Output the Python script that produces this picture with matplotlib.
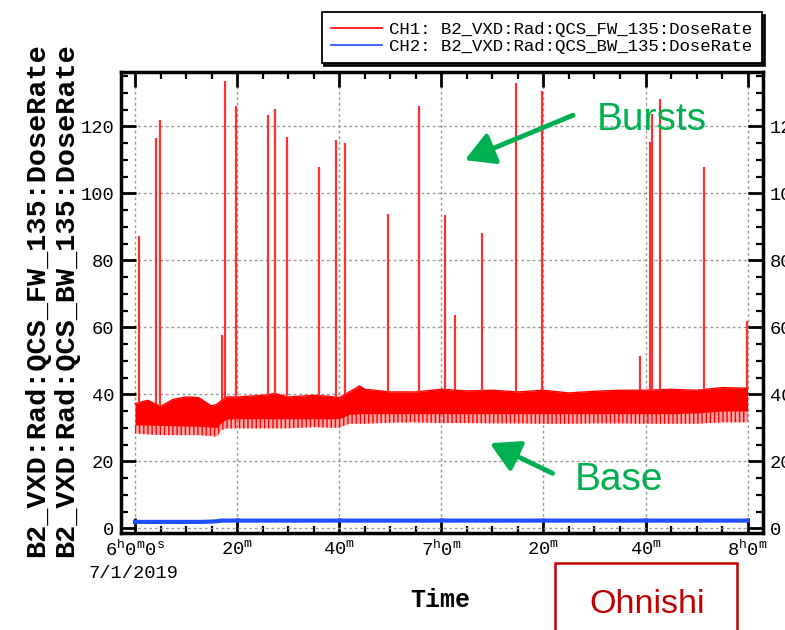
import numpy as np
import matplotlib
matplotlib.use("Agg")
import matplotlib.pyplot as plt
from matplotlib.ticker import MultipleLocator
from matplotlib.patches import Rectangle

plt.rcParams['font.family'] = ['Liberation Mono', 'DejaVu Sans']
plt.rcParams['mathtext.fontset'] = 'custom'
plt.rcParams['mathtext.rm'] = 'Liberation Mono'
plt.rcParams['mathtext.it'] = 'Liberation Mono:italic'
plt.rcParams['mathtext.bf'] = 'Liberation Mono:bold'
plt.rcParams['hatch.linewidth'] = 1.0

# minutes after 6h00 on 7/1/2019
t_base = [0, 2.5, 5, 7.5, 10, 12.5, 15, 16, 17, 18, 20, 25, 27.5, 30, 35, 38, 40,
          42, 44, 45, 50, 55, 60, 65, 70, 75, 80, 85, 90, 95, 100, 105, 110, 115, 120]
# CH1 baseline band (top of noise, bottom of dense part, lowest dips)
ch1_top = [37.2, 38.2, 36.4, 38.5, 39.2, 39.0, 36.5, 37.0, 38.2, 39.2, 39.2, 39.7, 40.2, 39.2, 39.7, 39.4, 39.0,
           40.7, 42.5, 41.5, 40.7, 40.7, 41.5, 41.0, 41.2, 40.7, 41.2, 40.4, 40.9, 41.2, 41.2, 41.5, 41.2, 42.0, 41.8]
ch1_core = [30.8, 30.8, 30.7, 30.6, 30.5, 30.4, 30.2, 30.1, 31.7, 32.6, 32.7, 32.7, 32.7, 32.7, 32.7, 32.7, 32.7,
            34.0, 34.2, 34.2, 34.2, 34.2, 34.2, 34.2, 34.2, 34.2, 34.2, 34.2, 34.2, 34.2, 34.2, 34.2, 34.4, 35.0, 35.0]
ch1_low = [28.3, 28.0, 27.8, 27.8, 27.8, 27.8, 27.5, 27.3, 29.3, 29.8, 29.8, 29.8, 29.8, 29.8, 30.2, 30.0, 30.0,
           31.2, 31.2, 31.2, 31.5, 31.6, 31.4, 31.4, 31.3, 31.3, 31.2, 31.2, 31.3, 31.3, 31.2, 31.2, 31.2, 31.6, 31.6]
# CH2 (backward sensor) stays near 2
ch2_val = [1.9, 1.9, 1.9, 1.9, 1.9, 1.9, 2.0, 2.1, 2.3, 2.3, 2.3, 2.3, 2.3, 2.3, 2.3, 2.3, 2.3,
           2.3, 2.3, 2.3, 2.3, 2.3, 2.3, 2.3, 2.3, 2.3, 2.3, 2.3, 2.3, 2.3, 2.3, 2.3, 2.3, 2.3, 2.3]

# CH1 bursts: time (min) and peak dose rate
burst_t = [0.8, 4.1, 4.9, 17.0, 17.6, 19.7, 26.1, 27.4, 29.7, 36.0, 39.3, 41.2, 49.5, 55.7,
           60.8, 62.6, 68.0, 74.6, 79.8, 99.0, 100.8, 101.3, 102.9, 111.4, 119.9]
burst_peak = [87.2, 116.5, 122.0, 57.6, 133.4, 126.2, 123.3, 125.2, 116.9, 107.7, 116.0, 115.1, 93.9, 126.2,
              93.5, 63.6, 88.0, 132.9, 130.5, 51.3, 115.3, 123.8, 128.0, 107.7, 61.8]

x_ticks = [0, 20, 40, 60, 80, 100, 120]
x_labels = [r'$\mathrm{6^{h}0^{m}0^{s}}$', r'$\mathrm{20^{m}}$', r'$\mathrm{40^{m}}$',
            r'$\mathrm{7^{h}0^{m}}$', r'$\mathrm{20^{m}}$', r'$\mathrm{40^{m}}$', r'$\mathrm{8^{h}0^{m}}$']
y_ticks = [0, 20, 40, 60, 80, 100, 120]

ch1_name = "CH1: B2_VXD:Rad:QCS_FW_135:DoseRate"
ch2_name = "CH2: B2_VXD:Rad:QCS_BW_135:DoseRate"

fig = plt.figure(figsize=(7.85, 6.3), dpi=100)
ax = fig.add_axes([0.1541, 0.1540, 0.8178, 0.7317])

# baseline band
ax.fill_between(t_base, ch1_core, ch1_top, color='#ff0000', linewidth=0)
ax.fill_between(t_base, ch1_low, ch1_core, facecolor=(1, 0, 0, 0.35), edgecolor='#ff0000',
                hatch='||||', linewidth=0)
l1, = ax.plot(t_base, ch1_top, color='#ff0000', lw=1, label=ch1_name)
# bursts
base_at = np.interp(burst_t, t_base, ch1_top)
ax.vlines(burst_t, base_at, burst_peak, color='#ff3030', lw=1.6)
l2, = ax.plot(t_base, ch2_val, color='#1f4fff', lw=3, label=ch2_name)

ax.set_xlim(-2.75, 123)
ax.set_ylim(-1.4, 136.2)
ax.set_xticks(x_ticks, labels=x_labels)
ax.set_yticks(y_ticks)
ax.xaxis.set_minor_locator(MultipleLocator(5))
ax.yaxis.set_minor_locator(MultipleLocator(5))
ax.tick_params(which='both', direction='in', top=True, right=True, labelright=True,
               labelsize=13.5, colors='black')
ax.tick_params(which='major', length=11, width=2)
ax.tick_params(which='minor', length=5, width=1.6)
ax.tick_params(axis='x', pad=5)
ax.tick_params(axis='y', pad=5)
for s in ax.spines.values():
    s.set_linewidth(2.5)
ax.set_axisbelow(True)
ax.grid(which='major', color='#9a9a9a', linestyle=(0, (2, 2)), linewidth=1.0)

leg = fig.legend(handles=[l1, l2], loc='upper right', bbox_to_anchor=(762 / 785, 1 - 12 / 630),
                 borderaxespad=0, fontsize=12.5, frameon=True, fancybox=False, edgecolor='black',
                 handlelength=2.9, handletextpad=0.45, labelspacing=0.1, borderpad=0.55,
                 shadow={'color': 'black', 'alpha': 0.9})
leg.get_frame().set_linewidth(1.3)
for h in leg.get_lines():
    h.set_linewidth(1.2)

# axis titles
fig.text(37 / 785, 0.524, "B2_VXD:Rad:QCS_FW_135:DoseRate", rotation=90, ha='center', va='center',
         fontsize=20.5, fontweight='bold')
fig.text(66 / 785, 0.524, "B2_VXD:Rad:QCS_BW_135:DoseRate", rotation=90, ha='center', va='center',
         fontsize=20.5, fontweight='bold')
fig.text(440 / 785, 1 - 600 / 630, "Time", ha='center', va='center', fontsize=18, fontweight='bold')
fig.text(133 / 785, 1 - 573 / 630, "7/1/2019", ha='center', va='center', fontsize=13.5)

# annotations
green = '#00b050'
ax.annotate('', xy=(64.6, 109.9), xytext=(85.8, 123.3),
            arrowprops=dict(arrowstyle='-|>,head_length=0.8,head_width=0.45', color=green,
                            lw=3.5, shrinkA=0, shrinkB=0, mutation_scale=22))
ax.text(90.4, 118.8, "Bursts", color=green, fontsize=28, family='Liberation Sans', va='baseline')
ax.annotate('', xy=(69.5, 25.4), xytext=(81.8, 16.4),
            arrowprops=dict(arrowstyle='-|>,head_length=0.8,head_width=0.45', color=green,
                            lw=3.5, shrinkA=0, shrinkB=0, mutation_scale=22))
ax.text(86.1, 11.3, "Base", color=green, fontsize=28, family='Liberation Sans', va='baseline')

fig.add_artist(Rectangle((555 / 785, -0.05), (737 - 555) / 785, (630 - 563) / 630 + 0.05,
                         transform=fig.transFigure, fill=False, edgecolor='#c00000', lw=1.8))
fig.text(647 / 785, 1 - 613 / 630, "Ohnishi", ha='center', va='baseline', color='#c00000',
         fontsize=24.5, family='Liberation Sans')

fig.savefig("out.png", dpi=100)
